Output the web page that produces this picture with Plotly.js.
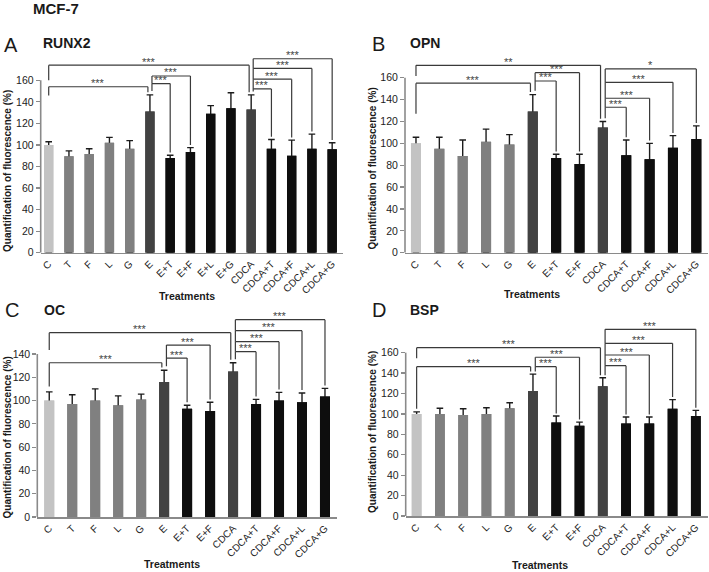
<!DOCTYPE html>
<html><head><meta charset="utf-8">
<script src="https://cdn.plot.ly/plotly-3.0.1.min.js"></script>
<style>html,body{margin:0;padding:0;background:#fff}#chart{width:709px;height:572px}</style>
</head><body><div id="chart"></div>
<script>
// ---------- DATA ----------
const catsA = ['C','T','F','L','G','E','E+T','E+F','E+L','E+G','CDCA','CDCA+T','CDCA+F','CDCA+L','CDCA+G'];
const catsB = ['C','T','F','L','G','E','E+T','E+F','CDCA','CDCA+T','CDCA+F','CDCA+L','CDCA+G'];

const runx2Mean  = [100, 89.5, 91.5, 102, 96.5, 131, 88, 93.5, 129, 134, 133, 96.5, 90, 96.5, 96];
const runx2Upper = [103, 94.5, 96.5, 107, 104, 146.5, 90.5, 97.5, 136.5, 148.5, 146.5, 105, 104.5, 110, 102];

const opnMean  = [100, 95, 88.5, 101.5, 99, 129, 86.5, 81, 114.5, 89, 85.5, 96, 104];
const opnUpper = [105.5, 105.5, 103, 113, 108, 144.5, 90, 90, 120, 103, 100, 107, 116];

const ocMean  = [100, 97, 100, 96, 101, 116, 93, 91, 125, 97, 100, 98.5, 103.5];
const ocUpper = [107.5, 105, 110, 104, 105.5, 126, 96, 98.5, 132.5, 101, 107, 106.5, 110.5];

const bspMean  = [100, 100, 99, 100, 105.5, 122.5, 91.5, 88.5, 127, 90.5, 90.5, 105, 98];
const bspUpper = [102, 105.5, 105, 106, 111, 139, 98, 92, 135.5, 97, 97, 114, 103.5];

// significance comparisons: [from, to, label]
const sigA = [['C','CDCA','***'],['C','E','***'],['E','E+T','***'],['E','E+F','***'],
              ['CDCA','CDCA+T','***'],['CDCA','CDCA+F','***'],['CDCA','CDCA+L','***'],['CDCA','CDCA+G','***']];
const sigB = [['C','CDCA','**'],['C','E','***'],['E','E+T','***'],['E','E+F','***'],
              ['CDCA','CDCA+T','***'],['CDCA','CDCA+F','***'],['CDCA','CDCA+L','***'],['CDCA','CDCA+G','*']];
const sigC = [['C','CDCA','***'],['C','E','***'],['E','E+T','***'],['E','E+F','***'],
              ['CDCA','CDCA+T','***'],['CDCA','CDCA+F','***'],['CDCA','CDCA+L','***'],['CDCA','CDCA+G','***']];
const sigD = sigC;

// ---------- LAYOUT CONFIG (positions / styles) ----------
// bracket [level, leftBottom] per comparison, in axis units
const bracketGeomA = [[174,160],[154,146],[157,150],[164,157],[152,149.5],[161,152],[171,161],[180,171]];
const bracketGeomB = [[171.3,161.6],[155,127],[157,148],[164.6,157],[133,123],[141.2,133],[155.8,141.2],[168,155.8]];
const bracketGeomC = [[158.3,143.4],[132.5,112],[136.5,129.5],[147.7,136.5],[142,135.5],[150.6,142],[160,150.6],[169.5,160]];
const bracketGeomD = [[164.9,154.5],[146.3,105],[146.3,141.5],[155.5,146.3],[147.3,138],[157.7,147.3],[169.2,157.7],[182.9,169.2]];

const W = 709, H = 572;
const panels = [
  {s:'',  cats:catsA, mean:runx2Mean, upper:runx2Upper, sig:sigA, geom:bracketGeomA, title:'RUNX2', letter:'A',
   xpx:[40.7,342.7], xr:[-0.395,14.52], y0px:252.7, ppu:1.0775, ymax:185, topTick:160, bw:0.46,
   letterPos:[1.5,45], titlePos:[41,43.5], treatPos:[187,296], ytitlePos:[7.5,171.5]},
  {s:'2', cats:catsB, mean:opnMean, upper:opnUpper, sig:sigB, geom:bracketGeomB, title:'OPN', letter:'B',
   xpx:[405,708], xr:[-0.47,12.5], y0px:252.7, ppu:1.09375, ymax:185, topTick:160, bw:0.43,
   letterPos:[369.5,44], titlePos:[408,43.5], treatPos:[532,294], ytitlePos:[372.5,169]},
  {s:'3', cats:catsB, mean:ocMean, upper:ocUpper, sig:sigC, geom:bracketGeomC, title:'OC', letter:'C',
   xpx:[37.3,336.7], xr:[-0.52,12.51], y0px:517, ppu:1.1643, ymax:178, topTick:140, bw:0.435,
   letterPos:[2.5,309.5], titlePos:[41.5,310], treatPos:[172,563.5], ytitlePos:[7,437.5]},
  {s:'4', cats:catsB, mean:bspMean, upper:bspUpper, sig:sigD, geom:bracketGeomD, title:'BSP', letter:'D',
   xpx:[405.7,707.7], xr:[-0.47,12.51], y0px:516, ppu:1.0208, ymax:192, topTick:160, bw:0.42,
   letterPos:[369.5,310], titlePos:[408,310], treatPos:[540,565], ytitlePos:[372,432]}
];

function barColor(c){
  if (c === 'C') return '#c3c3c3';
  if (c === 'E' || c === 'CDCA') return '#424242';
  if (c.length === 1) return '#808080';
  return '#0e0e0e';
}

const FONT = 'Liberation Sans, Arial, sans-serif';
const traces = [], shapes = [], annotations = [];
const layout = {
  width: W, height: H, margin:{l:0,r:0,t:0,b:0}, paper_bgcolor:'#fff', plot_bgcolor:'#fff',
  showlegend:false, barmode:'overlay', font:{family:FONT, color:'#333'}
};
const px2x = p => p / W;
const py2y = p => 1 - p / H;

panels.forEach(p => {
  const xa = 'x' + p.s, ya = 'y' + p.s;
  const colors = p.cats.map(barColor);
  const errPlus = p.upper.map((u,i) => u - p.mean[i]);
  traces.push({type:'bar', x:p.cats, y:p.mean, xaxis:xa, yaxis:ya, width:p.bw,
    marker:{color:colors, line:{width:0}}, hoverinfo:'skip',
    error_y:{type:'data', symmetric:false, array:errPlus, arrayminus:p.mean, color:'#1c1c1c', thickness:1.4, width:3.3}});
  traces.push({type:'bar', x:p.cats, y:p.mean, xaxis:xa, yaxis:ya, width:p.bw,
    marker:{color:colors, line:{width:0}}, hoverinfo:'skip'});

  const topPx = p.y0px - p.ymax * p.ppu;
  const tv = []; for (let v = 0; v <= p.topTick; v += 20) tv.push(v);
  layout['xaxis' + p.s] = {domain:[px2x(p.xpx[0]), px2x(p.xpx[1])], anchor:ya, type:'category',
    range:p.xr, showline:true, linecolor:'#8a8a8a', linewidth:1.6, ticks:'', showgrid:false, zeroline:false,
    tickangle:-45, tickfont:{family:FONT, size:10, color:'#222'}, fixedrange:true};
  layout['yaxis' + p.s] = {domain:[py2y(p.y0px), py2y(topPx)], anchor:xa, range:[0,p.ymax],
    showline:false, showgrid:false, zeroline:false, tickvals:tv, ticktext:tv.map(String),
    ticks:'outside', ticklen:4, tickwidth:1.2, tickcolor:'#8a8a8a',
    tickfont:{family:FONT, size:10.5, color:'#222'}, fixedrange:true};
  // y axis line only up to the top tick
  shapes.push({type:'line', xref:xa + ' domain', yref:ya, x0:0, x1:0, y0:0, y1:p.topTick,
    line:{color:'#8a8a8a', width:1.6}});

  // significance brackets
  const idx = c => p.cats.indexOf(c);
  p.sig.forEach((b, k) => {
    const [from, to, label] = b;
    const [level, leftBottom] = p.geom[k];
    const x0 = idx(from) + (from === 'C' ? 0 : 0.1);
    const x1 = idx(to) + ((from === 'C' && to !== 'C') ? -0.1 : 0);
    const rightBottom = p.upper[idx(to)] + 2.5;
    const lc = {color:'#3a3a3a', width:1.2};
    shapes.push({type:'line', xref:xa, yref:ya, x0:x0, x1:x1, y0:level, y1:level, line:lc});
    shapes.push({type:'line', xref:xa, yref:ya, x0:x0, x1:x0, y0:level, y1:leftBottom, line:lc});
    shapes.push({type:'line', xref:xa, yref:ya, x0:x1, x1:x1, y0:level, y1:rightBottom, line:lc});
    annotations.push({xref:xa, yref:ya, x:(x0 + x1) / 2, y:level, text:label, showarrow:false,
      xanchor:'center', yanchor:'middle', yshift:3.5, borderpad:0,
      font:{family:FONT, size:11, color:'#444'}});
  });

  // panel letter, title, axis titles
  annotations.push({xref:'paper', yref:'paper', x:px2x(p.letterPos[0]), y:py2y(p.letterPos[1]), text:p.letter,
    showarrow:false, xanchor:'left', yanchor:'middle', font:{family:FONT, size:20, color:'#1a1a1a'}});
  annotations.push({xref:'paper', yref:'paper', x:px2x(p.titlePos[0]), y:py2y(p.titlePos[1]), text:'<b>' + p.title + '</b>',
    showarrow:false, xanchor:'left', yanchor:'middle', font:{family:FONT, size:14, color:'#1a1a1a'}});
  annotations.push({xref:'paper', yref:'paper', x:px2x(p.treatPos[0]), y:py2y(p.treatPos[1]), text:'<b>Treatments</b>',
    showarrow:false, xanchor:'center', yanchor:'middle', font:{family:FONT, size:10.5, color:'#1a1a1a'}});
  annotations.push({xref:'paper', yref:'paper', x:px2x(p.ytitlePos[0]), y:py2y(p.ytitlePos[1]),
    text:'<b>Quantification of fluorescence (%)</b>', textangle:-90,
    showarrow:false, xanchor:'center', yanchor:'middle', font:{family:FONT, size:10, color:'#1a1a1a'}});
});

annotations.push({xref:'paper', yref:'paper', x:px2x(31), y:py2y(8.3), text:'<b>MCF-7</b>',
  showarrow:false, xanchor:'left', yanchor:'middle', font:{family:FONT, size:15, color:'#1a1a1a'}});

layout.shapes = shapes;
layout.annotations = annotations;
Plotly.newPlot('chart', traces, layout, {displayModeBar:false, staticPlot:true});
</script>
</body></html>
